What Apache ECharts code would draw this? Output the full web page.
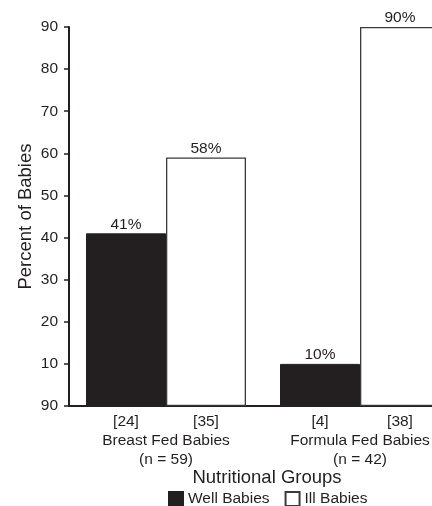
<!DOCTYPE html>
<html>
<head>
<meta charset="utf-8">
<script src="https://cdn.jsdelivr.net/npm/echarts@6/dist/echarts.min.js"></script>
<style>
html,body{margin:0;padding:0;background:#fff;}
#chart{width:432px;height:506px;}
</style>
</head>
<body>
<div id="chart"></div>
<script>
const groups = ["Breast Fed Babies", "Formula Fed Babies"];
const groupN = ["(n = 59)", "(n = 42)"];
const wellCounts = ["[24]", "[4]"];
const illCounts = ["[35]", "[38]"];
const wellValues = [41, 10];
const illValues = [59, 90];
const wellLabels = ["41%", "10%"];
const illLabels = ["58%", "90%"];
const yTickLabels = ["90", "10", "20", "30", "40", "50", "60", "70", "80", "90"];
const seriesNames = ["Well Babies", "Ill Babies"];

const ink = '#231f20';
const font = 'Liberation Sans, Arial, Helvetica, sans-serif';

const chart = echarts.init(document.getElementById('chart'), null, {renderer: 'canvas'});
chart.setOption({
  animation: false,
  backgroundColor: '#fff',
  textStyle: {fontFamily: font, color: ink},
  grid: {left: 69, top: 27, width: 388, height: 379, containLabel: false, outerBoundsMode: 'none'},
  legend: {
    left: 163, top: 486,
    itemWidth: 14, itemHeight: 14, itemGap: 15,
    textStyle: {fontFamily: font, fontSize: 15.5, color: ink},
    data: [
      {name: seriesNames[0], icon: 'rect'},
      {name: seriesNames[1], icon: 'rect'}
    ]
  },
  xAxis: {
    type: 'category',
    data: groups,
    name: 'Nutritional Groups',
    nameLocation: 'middle',
    nameGap: 62,
    nameMoveOverlap: false,
    nameTextStyle: {fontFamily: font, fontSize: 18.5, color: ink, padding: [0, 0, 0, 8]},
    axisLine: {show: true, lineStyle: {color: ink, width: 2}},
    axisTick: {show: false},
    axisLabel: {
      margin: 6,
      interval: 0,
      color: ink,
      fontFamily: font,
      fontSize: 15.5,
      lineHeight: 19,
      formatter: function (value, idx) {
        return '{c|' + wellCounts[idx] + '}{c|' + illCounts[idx] + '}\n{g|' + value + '}\n{g|' + groupN[idx] + '}';
      },
      rich: {
        c: {width: 80, align: 'center', fontSize: 15.5, lineHeight: 19, color: ink, fontFamily: font},
        g: {align: 'center', fontSize: 15.5, lineHeight: 19, color: ink, fontFamily: font}
      }
    },
    splitLine: {show: false}
  },
  yAxis: {
    type: 'value',
    min: 0, max: 90, interval: 10,
    name: 'Percent of Babies',
    nameLocation: 'middle',
    nameGap: 34,
    nameMoveOverlap: false,
    nameTextStyle: {fontFamily: font, fontSize: 18.5, color: ink},
    axisLine: {show: true, lineStyle: {color: ink, width: 2}},
    axisTick: {show: true, length: 5, lineStyle: {color: ink, width: 1.5}},
    axisLabel: {
      margin: 11,
      color: ink,
      fontFamily: font,
      fontSize: 15.5,
      formatter: function (v) { return yTickLabels[Math.round(v / 10)]; }
    },
    splitLine: {show: false}
  },
  series: [
    {
      name: seriesNames[0],
      type: 'bar',
      barWidth: 80,
      barGap: '0%',
      data: wellValues,
      itemStyle: {color: ink, borderColor: ink, borderWidth: 1},
      label: {
        show: true, position: 'top', distance: 1,
        fontFamily: font, fontSize: 15.5, color: ink,
        formatter: function (p) { return wellLabels[p.dataIndex]; }
      }
    },
    {
      name: seriesNames[1],
      type: 'bar',
      barWidth: 80,
      barGap: '0%',
      data: illValues,
      itemStyle: {color: '#ffffff', borderColor: '#3a3a3a', borderWidth: 1.3},
      label: {
        show: true, position: 'top', distance: 1,
        fontFamily: font, fontSize: 15.5, color: ink,
        formatter: function (p) { return illLabels[p.dataIndex]; }
      }
    }
  ]
});
</script>
</body>
</html>
